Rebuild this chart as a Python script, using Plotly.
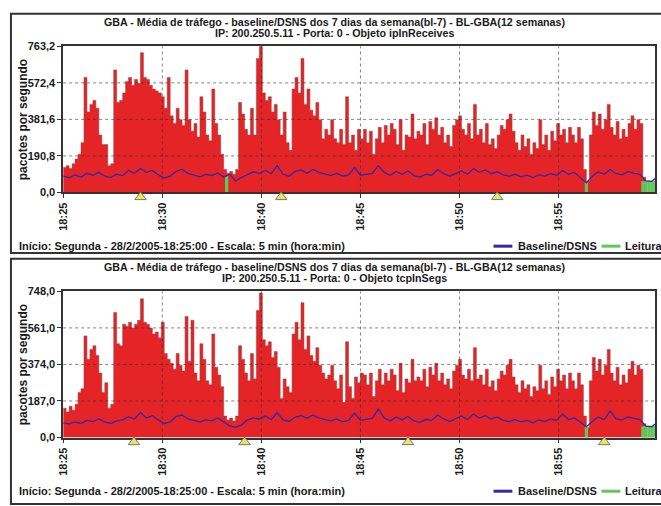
import plotly.graph_objects as go

# ---------------- data ----------------
x_tick_vals = [0, 5, 10, 15, 20, 25]
x_tick_labels = ["18:25", "18:30", "18:40", "18:45", "18:50", "18:55"]
traffic_step = 0.15   # minutes per traffic sample
baseline_step = 0.3   # minutes per baseline sample

y_ticks_top = [0.0, 190.8, 381.6, 572.4, 763.2]
y_ticks_bot = [0.0, 187.0, 374.0, 561.0, 748.0]

traffic_top = [
    130, 140, 125, 150, 175, 200, 260, 600, 420, 460, 480, 440, 300, 250, 250, 140, 150,
    640, 470, 480, 520, 580, 600, 560, 590, 570, 730, 600, 590, 560, 540, 530, 520, 500,
    440, 600, 400, 360, 440, 380, 350, 640, 380, 320, 360, 290, 500, 420, 300, 270, 540,
    360, 300, 200, 120, 100, 110, 95, 120, 470, 410, 330, 300, 440, 300, 700, 763, 520,
    480, 500, 420, 460, 380, 300, 420, 260, 220, 540, 600, 520, 700, 460, 540, 430, 400,
    470, 380, 280, 330, 300, 380, 280, 260, 330, 250, 500, 260, 300, 220, 330, 280,
    330, 260, 320, 200, 280, 340, 260, 350, 300, 360, 330, 250, 380, 220, 300, 290, 410,
    280, 320, 300, 360, 250, 370, 330, 390, 300, 340, 260, 300, 240, 350, 380, 400, 330,
    300, 360, 280, 460, 300, 330, 260, 360, 250, 280, 230, 300, 350, 330, 380, 410, 320,
    260, 220, 300, 240, 280, 200, 260, 230, 380, 250, 300, 220, 320, 270, 360, 300, 330,
    260, 340, 300, 260, 340, 280, 120, 60, 300, 420, 350, 410, 330, 380, 460, 340, 300,
    370, 280, 330, 290, 360, 400, 330, 380, 360, 80, 0, 0, 0, 0,
]
baseline_top = [
    85, 78, 92, 80, 100, 90, 105, 85, 78, 95, 88, 115, 100, 125, 105, 115, 92, 75, 85,
    110, 120, 100, 90, 82, 95, 88, 102, 80, 95, 60, 78, 95, 108, 100, 115, 98, 140, 95,
    85, 110, 118, 100, 120, 105, 95, 88, 100, 85, 92, 130, 90,
    95, 100, 140, 105, 90, 110, 95, 112, 88, 80, 95, 90, 120, 98, 85, 100, 112, 95, 125,
    105, 118, 98, 108, 92, 85, 95, 82, 90, 78, 92, 85, 98, 90, 115, 95, 105, 80, 50, 85,
    108, 95, 120, 98, 92, 110, 100, 95, 60, 58, 85,
]
leitura_top_idx = [55, 176, 195, 196, 197, 198, 199]
leitura_top_val = [85, 55, 58, 60, 62, 60, 60]
marks_top = [3.9, 11.0, 21.9]

traffic_bot = [
    150, 130, 160, 140, 170, 230, 250, 520, 400, 450, 470, 420, 330, 230, 280, 150, 170,
    640, 480, 470, 580, 570, 590, 560, 580, 600, 710, 590, 580, 560, 530, 540, 510, 590,
    430, 400, 380, 350, 430, 370, 340, 620, 390, 600, 330, 290, 480, 400, 290, 270, 530,
    360, 320, 260, 110, 90, 100, 85, 110, 470, 400, 330, 290, 430, 300, 650, 740, 500,
    470, 490, 410, 440, 360, 200, 300, 260, 230, 530, 590, 500, 690, 450, 520, 420, 390,
    460, 370, 330, 300, 320, 370, 290, 250, 320, 180, 490, 260, 200, 310, 280, 330,
    320, 270, 330, 210, 290, 350, 270, 330, 290, 350, 320, 240, 380, 230, 300, 280, 400,
    290, 310, 290, 350, 260, 360, 320, 380, 290, 330, 270, 300, 250, 340, 370, 400, 320,
    300, 350, 290, 460, 300, 320, 270, 350, 260, 290, 240, 300, 340, 320, 370, 400, 310,
    270, 230, 290, 250, 270, 210, 260, 240, 370, 250, 290, 220, 310, 260, 350, 290, 320,
    250, 330, 290, 250, 330, 270, 110, 50, 290, 410, 340, 400, 320, 370, 450, 330, 290,
    360, 270, 320, 280, 350, 390, 320, 370, 350, 70, 0, 0, 0, 0,
]
baseline_bot = [
    75, 70, 80, 72, 88, 82, 95, 80, 72, 85, 90, 105, 95, 128, 100, 112, 90, 72, 80, 108,
    115, 95, 88, 80, 90, 85, 100, 78, 60, 52, 65, 90, 100, 95, 110, 92, 128, 90, 82, 105,
    112, 98, 115, 100, 92, 85, 95, 80, 88, 125, 88,
    92, 98, 145, 100, 85, 105, 90, 108, 85, 78, 92, 88, 115, 95, 82, 98, 110, 92, 120,
    100, 112, 95, 105, 88, 82, 92, 80, 88, 75, 90, 82, 95, 88, 120, 92, 100, 78, 55, 82,
    105, 92, 135, 95, 90, 105, 98, 92, 58, 55, 80,
]
leitura_bot_idx = [176, 195, 196, 197, 198, 199]
leitura_bot_val = [55, 58, 60, 60, 58, 60]
marks_bot = [3.57, 9.15, 17.4, 27.3]

titles_top = ["GBA - Média de tráfego - baseline/DSNS dos 7 dias da semana(bl-7) - BL-GBA(12 semanas)",
              "IP: 200.250.5.11 - Porta: 0 - Objeto ipInReceives"]
titles_bot = ["GBA - Média de tráfego - baseline/DSNS dos 7 dias da semana(bl-7) - BL-GBA(12 semanas)",
              "IP: 200.250.5.11 - Porta: 0 - Objeto tcpInSegs"]
footer = "Início: Segunda - 28/2/2005-18:25:00 - Escala: 5 min (hora:min)"
y_title = "pacotes por segundo"
legend_names = ["Baseline/DSNS", "Leitura"]

# ---------------- style ----------------
W, H = 661, 506
FONT = "Liberation Sans"
RED = "rgb(228,36,38)"
BLUE = "rgb(52,40,170)"
GREEN = "rgb(96,200,90)"
TRI = "rgb(232,232,96)"
PANEL_OFF = 251
PX_L, PX_R = 57.7, 655
PY_T, PY_B = 41.3, 191
X_MAX = (PX_R - PX_L) / 20.0


def px(x):
    return x / W


def py(y):
    return 1 - y / H


def fmt(v):
    return f"{v:.1f}".replace(".", ",")


fig = go.Figure()
shapes = []
annotations = []

panels = [
    dict(traffic=traffic_top, base=baseline_top, li=leitura_top_idx, lv=leitura_top_val,
         marks=marks_top, yt=y_ticks_top, titles=titles_top, off=0, xa="x", ya="y", ym="y3"),
    dict(traffic=traffic_bot, base=baseline_bot, li=leitura_bot_idx, lv=leitura_bot_val,
         marks=marks_bot, yt=y_ticks_bot, titles=titles_bot, off=PANEL_OFF, xa="x2", ya="y2",
         ym="y4"),
]

TXT = dict(family=FONT, size=11, color="#1a1a1a", weight="bold")

for n, p in enumerate(panels):
    off = p["off"]
    xa, ya, ym = p["xa"], p["ya"], p["ym"]
    ymax = p["yt"][-1]
    xs = [i * traffic_step for i in range(len(p["traffic"]))]
    fig.add_trace(go.Scatter(x=xs, y=p["traffic"], mode="lines", fill="tozeroy",
                             fillcolor=RED, line=dict(color="rgba(150,70,70,0.9)", width=0.6,
                                                      shape="hv"),
                             xaxis=xa, yaxis=ya, showlegend=False, hoverinfo="skip"))
    # Leitura strokes
    lx, ly = [], []
    for i, v in zip(p["li"], p["lv"]):
        lx += [i * traffic_step, i * traffic_step, None]
        ly += [0, v, None]
    fig.add_trace(go.Scatter(x=lx, y=ly, mode="lines", line=dict(color=GREEN, width=3.2),
                             xaxis=xa, yaxis=ya, showlegend=False, hoverinfo="skip"))
    bx = [j * baseline_step for j in range(len(p["base"]))]
    fig.add_trace(go.Scatter(x=bx, y=p["base"], mode="lines", line=dict(color=BLUE, width=1.3),
                             xaxis=xa, yaxis=ya, showlegend=False, hoverinfo="skip"))
    # event triangles in a thin strip just under the plot
    fig.add_trace(go.Scatter(x=p["marks"], y=[0.5] * len(p["marks"]), mode="markers",
                             marker=dict(symbol="triangle-up", size=10, color=TRI,
                                         line=dict(color="#777", width=1)),
                             cliponaxis=False, xaxis=xa, yaxis=ym, showlegend=False,
                             hoverinfo="skip"))

    sfx = "" if n == 0 else "2"
    msfx = "3" if n == 0 else "4"
    common = dict(showline=True, linecolor="#333", linewidth=1.5, mirror=True, ticks="outside",
                  ticklen=4, tickcolor="#333", showgrid=False, zeroline=False,
                  layer="above traces", tickfont=TXT)
    fig.update_layout(**{
        "xaxis" + sfx: dict(domain=[px(PX_L), px(PX_R)], range=[0, X_MAX], tickvals=x_tick_vals,
                            ticktext=x_tick_labels, tickangle=-90, anchor=ya, **common),
        "yaxis" + sfx: dict(domain=[py(PY_B + off), py(PY_T + off)], range=[0, ymax],
                            tickvals=p["yt"], ticktext=[fmt(v) for v in p["yt"]], anchor=xa,
                            **common),
        "yaxis" + msfx: dict(domain=[py(PY_B + 9 + off), py(PY_B + 0.5 + off)], range=[0, 1],
                             visible=False, anchor=xa, fixedrange=True),
    })

    # grid lines above traces
    for t in x_tick_vals[1:]:
        shapes.append(dict(type="line", xref=xa, yref=ya + " domain", x0=t, x1=t, y0=0, y1=1,
                           line=dict(color="rgba(50,50,50,0.6)", width=1, dash="dot"), layer="above"))
    for t in p["yt"][1:-1]:
        shapes.append(dict(type="line", xref=xa + " domain", yref=ya, x0=0, x1=1, y0=t, y1=t,
                           line=dict(color="rgba(50,50,50,0.6)", width=1, dash="dot"), layer="above"))

    # panel frame
    shapes.append(dict(type="rect", xref="paper", yref="paper", x0=px(5), x1=px(665),
                       y0=py(253 + off if n == 0 else 510), y1=py(8 + off),
                       line=dict(color="#333", width=2), layer="above"))

    # titles
    title_font = dict(TXT, size=10.7)
    annotations.append(dict(text=p["titles"][0], x=px(332), y=py(16 + off), xref="paper",
                            yref="paper", showarrow=False, xanchor="center", yanchor="middle",
                            font=title_font))
    annotations.append(dict(text=p["titles"][1], x=px(332), y=py(28 + off), xref="paper",
                            yref="paper", showarrow=False, xanchor="center", yanchor="middle",
                            font=title_font))
    annotations.append(dict(text=y_title, x=px(18), y=py((PY_T + PY_B) / 2 + off), xref="paper",
                            yref="paper", showarrow=False, textangle=-90, xanchor="center",
                            yanchor="middle", font=dict(TXT, size=12)))
    annotations.append(dict(text=footer, x=px(11), y=py(246 + off), xref="paper", yref="paper",
                            showarrow=False, xanchor="left", yanchor="middle", font=TXT))
    # legend
    shapes.append(dict(type="line", xref="paper", yref="paper", x0=px(492), x1=px(511),
                       y0=py(246 + off), y1=py(246 + off), line=dict(color=BLUE, width=3)))
    annotations.append(dict(text=legend_names[0], x=px(515), y=py(246 + off), xref="paper",
                            yref="paper", showarrow=False, xanchor="left", yanchor="middle",
                            font=TXT))
    shapes.append(dict(type="line", xref="paper", yref="paper", x0=px(601), x1=px(620),
                       y0=py(246 + off), y1=py(246 + off), line=dict(color=GREEN, width=3)))
    annotations.append(dict(text=legend_names[1], x=px(623), y=py(246 + off), xref="paper",
                            yref="paper", showarrow=False, xanchor="left", yanchor="middle",
                            font=TXT))

fig.update_layout(width=W, height=H, margin=dict(l=0, r=0, t=0, b=0),
                  paper_bgcolor="white", plot_bgcolor="white", showlegend=False,
                  shapes=shapes, annotations=annotations)
fig.write_html("out.html", config={"displayModeBar": False},
               post_script="document.body.style.margin='0';document.body.style.overflow='hidden';")
